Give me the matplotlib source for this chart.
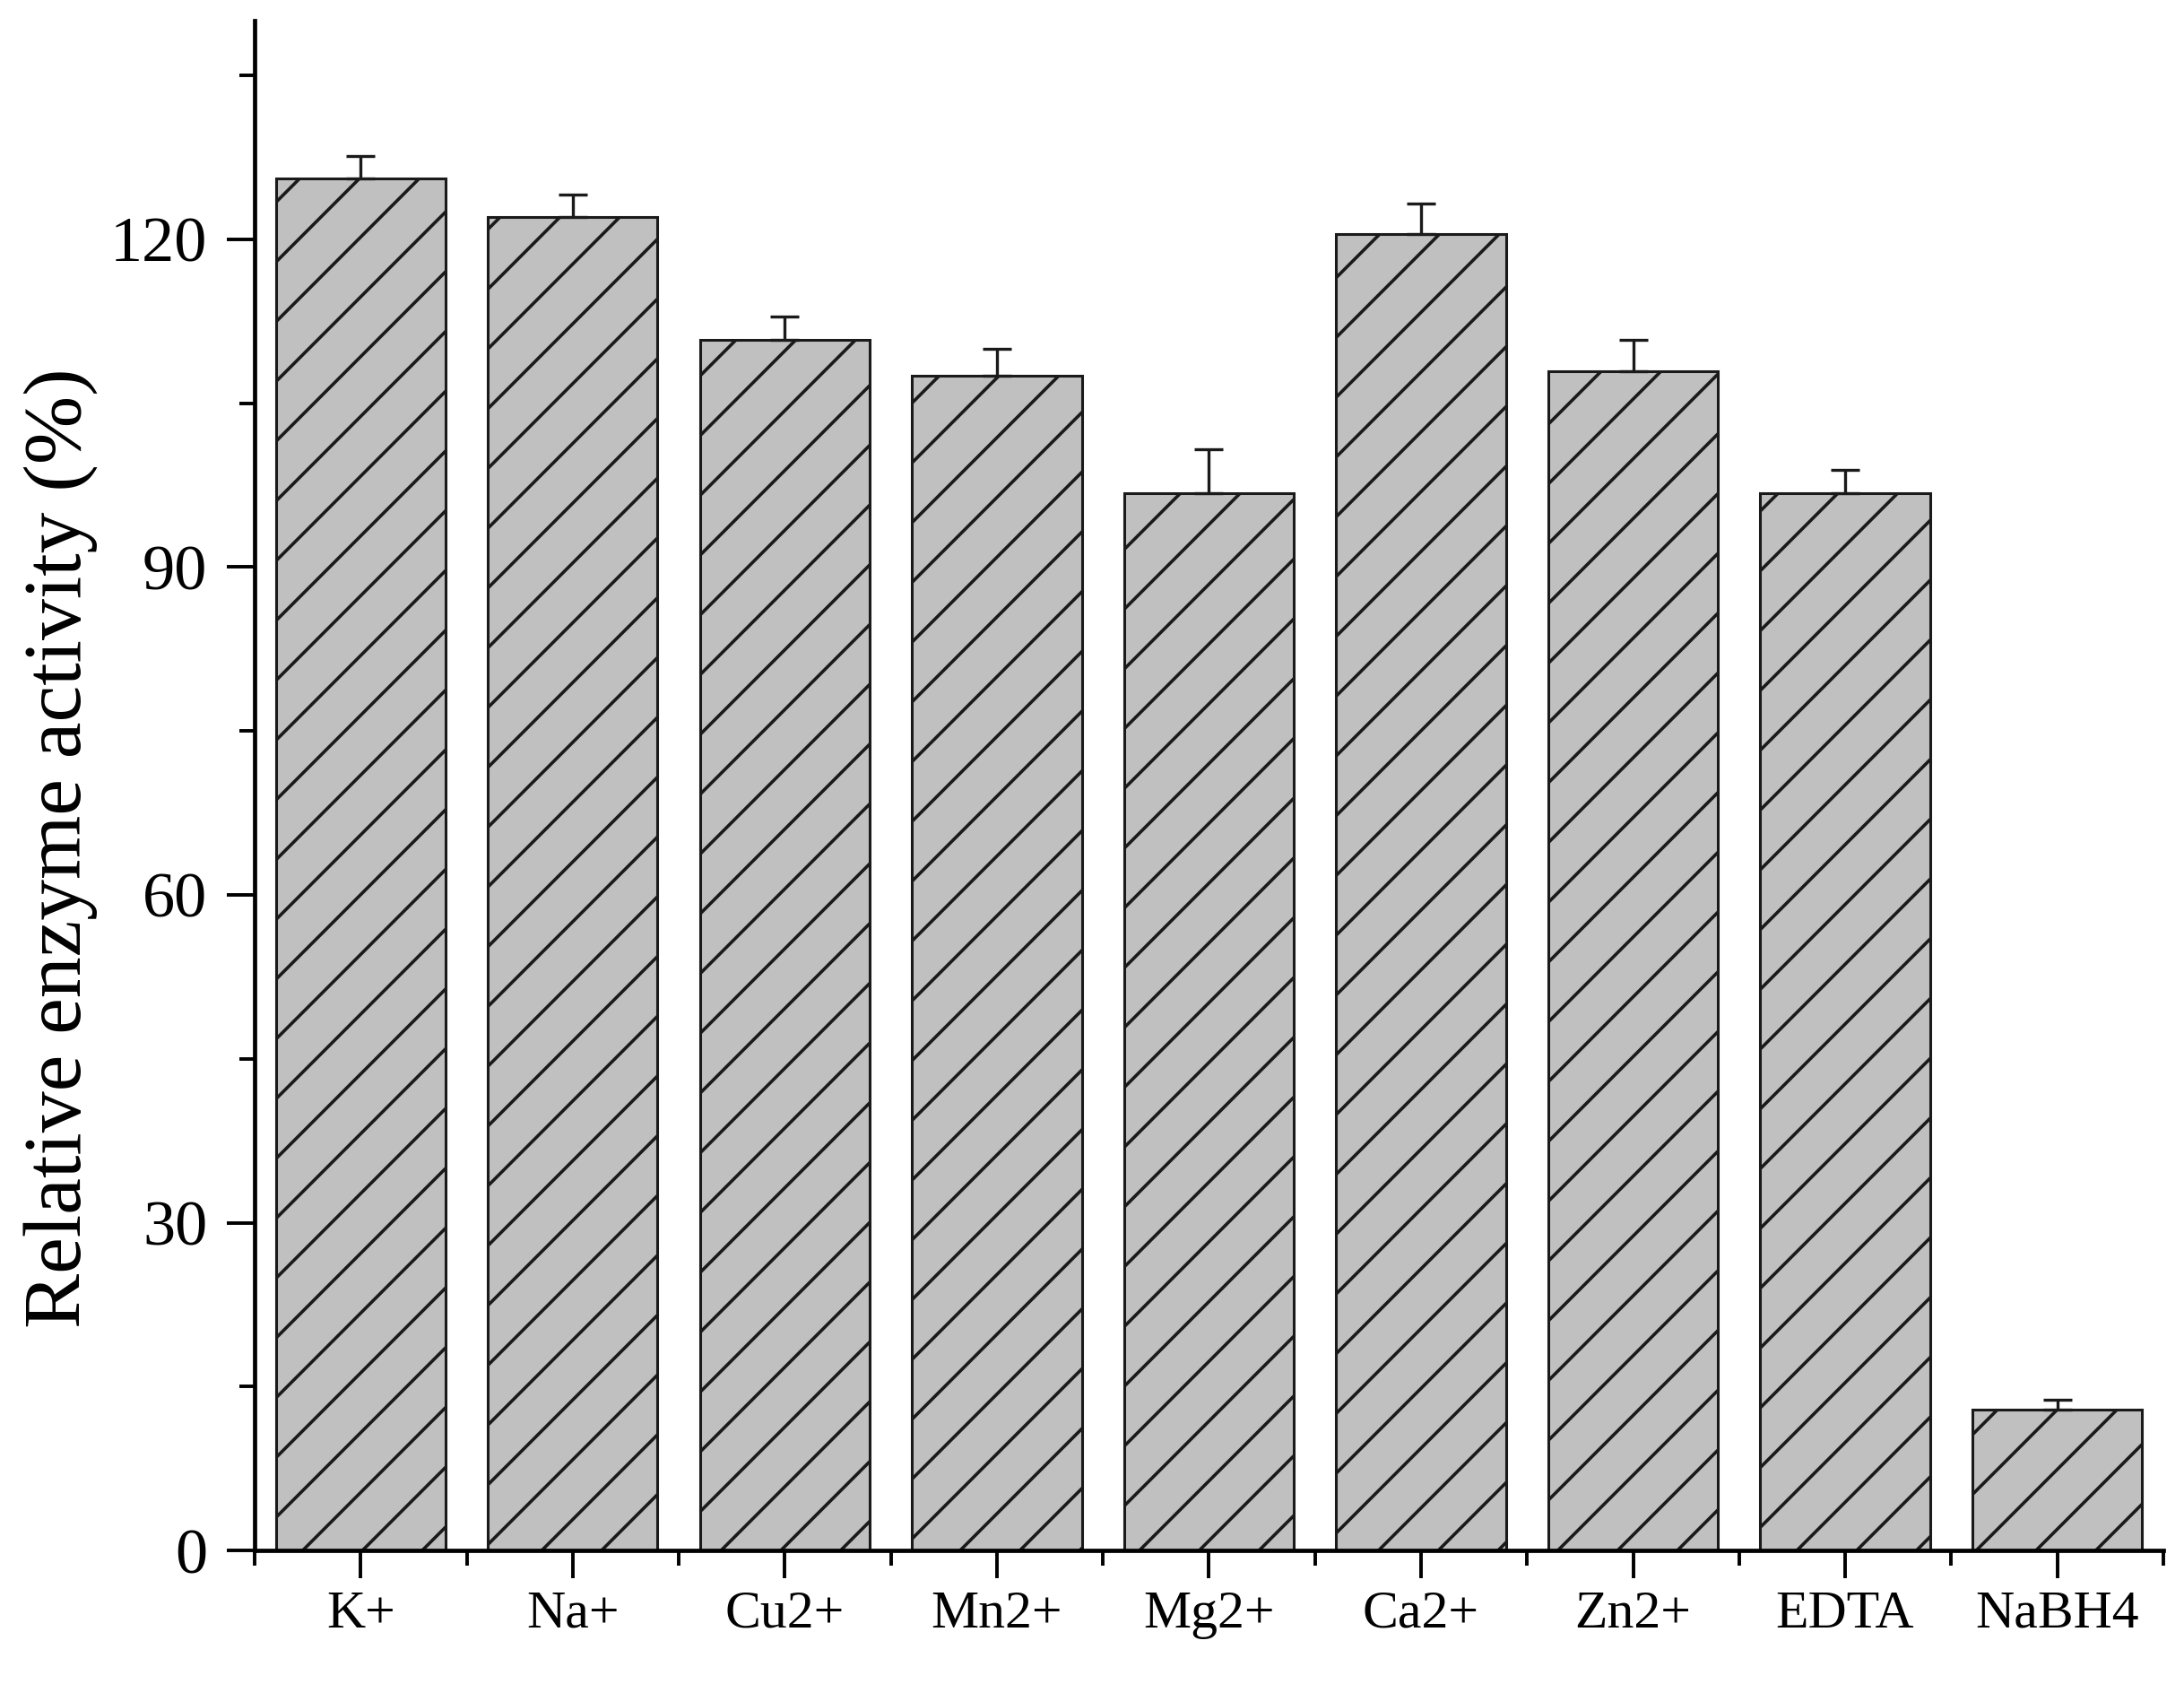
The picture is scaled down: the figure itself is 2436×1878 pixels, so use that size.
import numpy as np
import matplotlib
matplotlib.use("Agg")
import matplotlib.pyplot as plt
from matplotlib.ticker import MultipleLocator, FixedLocator

# ------------------------------------------------------------
# Datos
# ------------------------------------------------------------

labels = ["K+", "Na+", "Cu2+", "Mn2+", "Mg2+", "Ca2+", "Zn2+", "EDTA", "NaBH4"]
activity = [125.6, 122.0, 110.8, 107.5, 96.8, 120.5, 107.9, 96.8, 12.9]
errors = [2.0, 2.1, 2.1, 2.5, 4.0, 2.8, 2.9, 2.1, 0.9]

# ------------------------------------------------------------
# Figura
# ------------------------------------------------------------

plt.rcParams["font.family"] = ["Liberation Serif", "DejaVu Serif"]
plt.rcParams["hatch.linewidth"] = 1.3
plt.rcParams["hatch.color"] = "#111111"

fig = plt.figure(figsize=(12.18, 9.39), dpi=200)
ax = fig.add_axes([0.1166, 0.0793, 0.8739, 0.9084])

x = np.arange(len(labels))
ax.bar(x, activity, width=0.8, color="#c0c0c0", edgecolor="#1a1a1a",
       linewidth=1.1, hatch="/", zorder=2)
ax.errorbar(x, activity, yerr=[np.zeros(len(errors)), errors], fmt="none",
            ecolor="#1a1a1a", elinewidth=1.2, capsize=5.6, capthick=1.2, zorder=3)

ax.set_xlim(-0.5, len(labels) - 0.5)
ax.set_ylim(0, 140)

ax.spines["top"].set_visible(False)
ax.spines["right"].set_visible(False)
ax.spines["left"].set_linewidth(1.7)
ax.spines["bottom"].set_linewidth(1.7)

ax.set_xticks(x)
ax.set_xticklabels(labels)
ax.xaxis.set_minor_locator(FixedLocator(np.arange(-0.5, len(labels), 1.0)))
ax.yaxis.set_major_locator(MultipleLocator(30))
ax.yaxis.set_minor_locator(MultipleLocator(15))

ax.tick_params(axis="both", which="major", direction="out", length=11,
               width=1.4, color="black")
ax.tick_params(axis="both", which="minor", direction="out", length=6,
               width=1.4, color="black")
ax.tick_params(axis="x", which="major", labelsize=21.5, pad=5)
ax.tick_params(axis="y", which="major", labelsize=26, pad=8)

ax.set_ylabel("Relative enzyme activity (%)", fontsize=33)
ax.yaxis.set_label_coords(-0.082, 0.459)

fig.savefig("out.png", dpi=200)
